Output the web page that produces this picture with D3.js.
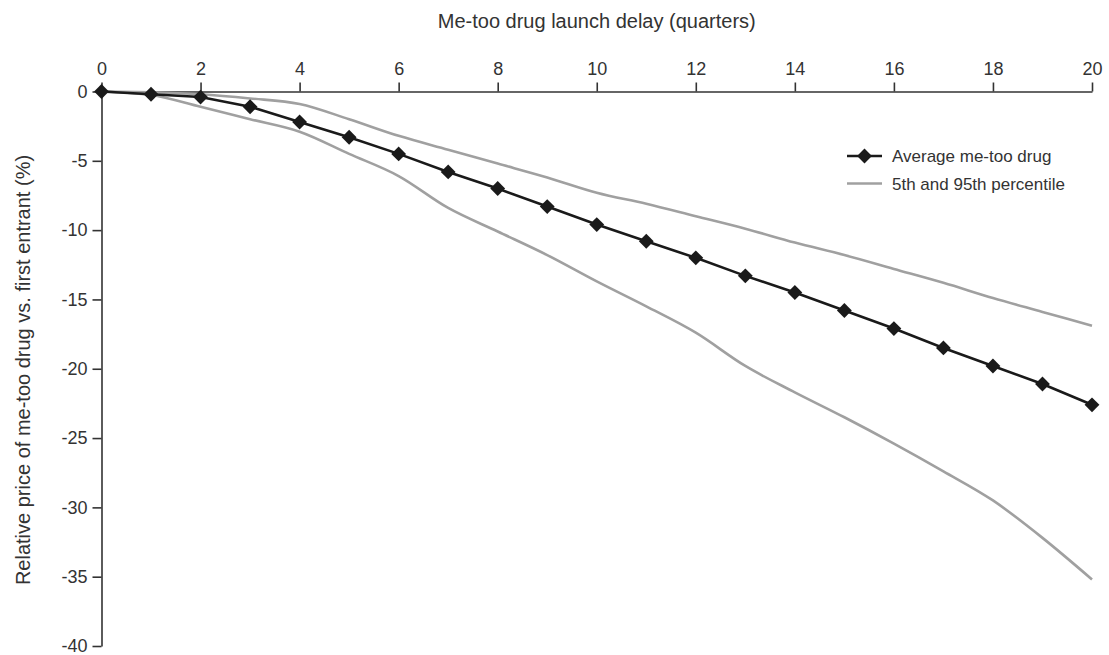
<!DOCTYPE html>
<html>
<head>
<meta charset="utf-8">
<script src="https://cdn.jsdelivr.net/npm/d3@7"></script>
<style>
  body { margin: 0; background: #fff; }
  svg { display: block; font-family: "Liberation Sans", Arial, Helvetica, sans-serif; }
  .axis path, .axis line { stroke: #333; stroke-width: 1.6; }
  .axis text { fill: #333; font-size: 18px; }
</style>
</head>
<body>
<svg></svg>
<script>
// quarters of launch delay
const quarters = d3.range(0, 21)
// relative price vs first entrant (%)
const average = [0, -0.2, -0.4, -1.1, -2.2, -3.3, -4.5, -5.8, -7.0, -8.3, -9.6, -10.8, -12.0, -13.3, -14.5, -15.8, -17.1, -18.5, -19.8, -21.1, -22.6]
const pct95 = [0, -0.05, -0.2, -0.5, -0.9, -2.0, -3.2, -4.2, -5.2, -6.2, -7.3, -8.1, -9.0, -9.9, -10.9, -11.8, -12.8, -13.8, -14.9, -15.9, -16.9]
const pct5 = [0, -0.25, -1.1, -2.0, -2.9, -4.5, -6.1, -8.4, -10.1, -11.8, -13.7, -15.5, -17.4, -19.8, -21.7, -23.5, -25.4, -27.4, -29.5, -32.2, -35.2]
const xTicks = [0, 2, 4, 6, 8, 10, 12, 14, 16, 18, 20]
const yTicks = [0, -5, -10, -15, -20, -25, -30, -35, -40]

const width = 1109, height = 655
const margin = { top: 91.5, right: 17, bottom: 9, left: 101.5 }

const svg = d3.select('svg')
    .attr('width', width)
    .attr('height', height)

const x = d3.scaleLinear()
    .domain([0, 20])
    .range([margin.left, width - margin.right])

const y = d3.scaleLinear()
    .domain([0, -40])
    .range([margin.top, height - margin.bottom])

svg.append('g')
    .attr('class', 'axis x')
    .attr('transform', `translate(0,${y(0)})`)
    .call(d3.axisTop(x).tickValues(xTicks).tickSize(9).tickSizeOuter(0).tickPadding(8))

svg.append('g')
    .attr('class', 'axis y')
    .attr('transform', `translate(${x(0)},0)`)
    .call(d3.axisLeft(y).tickValues(yTicks).tickSize(9).tickSizeOuter(0).tickPadding(5)
        .tickFormat(d => d === 0 ? '0' : '-' + Math.abs(d)))

svg.selectAll('.axis text').attr('font-family', null)

svg.append('text')
    .attr('x', (x(0) + x(20)) / 2)
    .attr('y', 28)
    .attr('text-anchor', 'middle')
    .attr('fill', '#333')
    .attr('font-size', 20)
    .text('Me-too drug launch delay (quarters)')

svg.append('text')
    .attr('transform', `translate(30,${370}) rotate(-90)`)
    .attr('text-anchor', 'middle')
    .attr('fill', '#333')
    .attr('font-size', 20)
    .text('Relative price of me-too drug vs. first entrant (%)')

const band = d3.line()
    .x((d, i) => x(quarters[i]))
    .y(d => y(d))
    .curve(d3.curveMonotoneX)

const avgLine = d3.line()
    .x((d, i) => x(quarters[i]))
    .y(d => y(d))

;[pct95, pct5].forEach(s => {
    svg.append('path')
        .datum(s)
        .attr('fill', 'none')
        .attr('stroke', '#a0a0a0')
        .attr('stroke-width', 2.6)
        .attr('d', band)
})

svg.append('path')
    .datum(average)
    .attr('fill', 'none')
    .attr('stroke', '#1a1a1a')
    .attr('stroke-width', 2.6)
    .attr('d', avgLine)

// rotated square gives an even diamond
const diamond = d3.symbol().type(d3.symbolSquare).size(110)

svg.selectAll('.pt')
    .data(average)
    .enter()
    .append('path')
    .attr('class', 'pt')
    .attr('transform', (d, i) => `translate(${x(quarters[i])},${y(d)}) rotate(45)`)
    .attr('fill', '#1a1a1a')
    .attr('d', diamond)

// legend
const legend = svg.append('g').attr('transform', 'translate(847,156)')
legend.append('line')
    .attr('x1', 0).attr('x2', 35).attr('y1', 0).attr('y2', 0)
    .attr('stroke', '#1a1a1a').attr('stroke-width', 2.6)
legend.append('path')
    .attr('transform', 'translate(17.5,0) rotate(45)')
    .attr('fill', '#1a1a1a')
    .attr('d', diamond)
legend.append('text')
    .attr('x', 45).attr('y', 6)
    .attr('fill', '#333').attr('font-size', 17)
    .text('Average me-too drug')
legend.append('line')
    .attr('x1', 0).attr('x2', 35).attr('y1', 27.5).attr('y2', 27.5)
    .attr('stroke', '#a0a0a0').attr('stroke-width', 2.6)
legend.append('text')
    .attr('x', 45).attr('y', 33.5)
    .attr('fill', '#333').attr('font-size', 17)
    .text('5th and 95th percentile')
</script>
</body>
</html>
